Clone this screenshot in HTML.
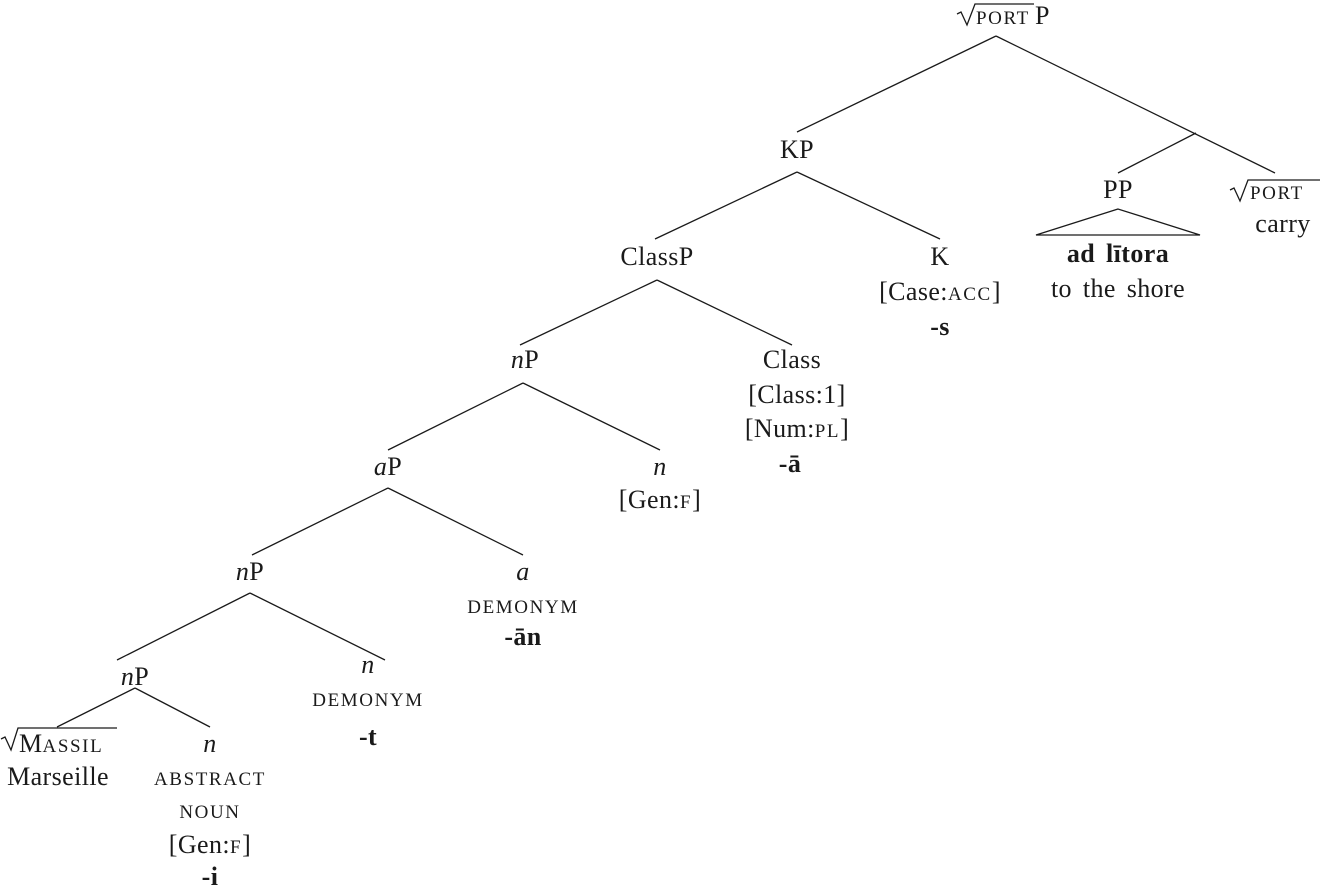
<!DOCTYPE html>
<html><head><meta charset="utf-8"><style>
html,body{margin:0;padding:0;background:#fff;}
svg{display:block;}
text{font-family:"Liberation Serif","DejaVu Serif",serif;font-size:26px;fill:#1a1a1a;text-anchor:middle;letter-spacing:0.4px;word-spacing:4px;}
.sc{font-size:19px;letter-spacing:1.6px;}
.b{font-weight:bold;}
.i{font-style:italic;}
line,polygon,path{stroke:#1a1a1a;stroke-width:1.3;fill:none;}
</style></head><body>
<svg width="1321" height="887" viewBox="0 0 1321 887" xmlns="http://www.w3.org/2000/svg">
<line x1="996" y1="36" x2="797" y2="132"/>
<line x1="996" y1="36" x2="1275" y2="173"/>
<line x1="1196" y1="133" x2="1118" y2="173"/>
<line x1="797" y1="172" x2="655" y2="239"/>
<line x1="797" y1="172" x2="940" y2="239"/>
<line x1="657" y1="280" x2="520" y2="345"/>
<line x1="657" y1="280" x2="792" y2="345"/>
<line x1="523" y1="383" x2="388" y2="450"/>
<line x1="523" y1="383" x2="660" y2="450"/>
<line x1="388" y1="488" x2="252" y2="555"/>
<line x1="388" y1="488" x2="523" y2="555"/>
<line x1="250" y1="593" x2="117" y2="660"/>
<line x1="250" y1="593" x2="385" y2="660"/>
<line x1="135" y1="688" x2="57" y2="727"/>
<line x1="135" y1="688" x2="210" y2="727"/>
<polygon points="1118,209 1036,235 1200,235"/>

<!-- root -->
<path d="M957,14 L961,12 L967,25 L975,4 L1034,4"/>
<text x="976" y="24" class="sc" style="text-anchor:start">PORT</text>
<text x="1035" y="24" style="text-anchor:start">P</text>

<text x="797" y="158">KP</text>
<text x="1118" y="198">PP</text>
<path d="M1230,190 L1234,188 L1240,201 L1248,180 L1320,180"/>
<text x="1250" y="199" class="sc" style="text-anchor:start">PORT</text>
<text x="1283" y="232">carry</text>
<text x="1118" y="262" class="b">ad lītora</text>
<text x="1118" y="297">to the shore</text>

<text x="657" y="265">ClassP</text>
<text x="940" y="265">K</text>
<text x="940" y="300">[Case:<tspan class="sc">ACC</tspan>]</text>
<text x="940" y="335" class="b">-s</text>

<text x="525" y="368"><tspan class="i">n</tspan>P</text>
<text x="792" y="368">Class</text>
<text x="797" y="403">[Class:1]</text>
<text x="797" y="437">[Num:<tspan class="sc">PL</tspan>]</text>
<text x="790" y="472" class="b">-ā</text>

<text x="388" y="475"><tspan class="i">a</tspan>P</text>
<text x="660" y="475" class="i">n</text>
<text x="660" y="508">[Gen:<tspan class="sc">F</tspan>]</text>

<text x="250" y="580"><tspan class="i">n</tspan>P</text>
<text x="523" y="580" class="i">a</text>
<text x="523" y="613" class="sc">DEMONYM</text>
<text x="523" y="645" class="b">-ān</text>

<text x="135" y="685"><tspan class="i">n</tspan>P</text>
<text x="368" y="673" class="i">n</text>
<text x="368" y="706" class="sc">DEMONYM</text>
<text x="368" y="745" class="b">-t</text>

<path d="M1,739 L5,737 L11,750 L18,728 L117,728"/>
<text x="19" y="752" style="text-anchor:start">M<tspan class="sc">ASSIL</tspan></text>
<text x="58" y="785">Marseille</text>

<text x="210" y="752" class="i">n</text>
<text x="210" y="785" class="sc">ABSTRACT</text>
<text x="210" y="818" class="sc">NOUN</text>
<text x="210" y="853">[Gen:<tspan class="sc">F</tspan>]</text>
<text x="210" y="885" class="b">-i</text>
</svg>
</body></html>
